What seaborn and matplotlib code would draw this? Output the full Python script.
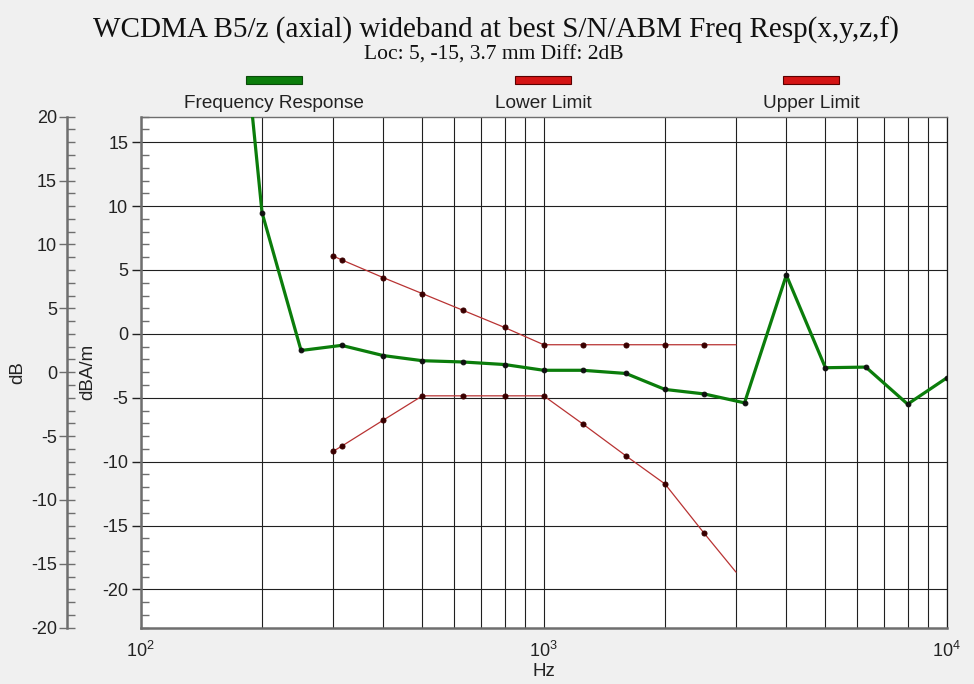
import numpy as np
import pandas as pd
import matplotlib
matplotlib.use("Agg")
import matplotlib.pyplot as plt
from matplotlib.patches import Rectangle
from matplotlib.ticker import MultipleLocator, LogLocator, NullFormatter
import seaborn as sns

# Measured response (dBA/m) and the +/-2 dB limit template around the 1 kHz value
resp_freq = [160, 200, 250, 315, 400, 500, 630, 800, 1000, 1250, 1600,
             2000, 2500, 3150, 4000, 5000, 6300, 8000, 10000]
resp_val = [40.3, 9.5, -1.3, -0.9, -1.7, -2.1, -2.2, -2.4, -2.85, -2.85, -3.1,
            -4.35, -4.7, -5.4, 4.6, -2.65, -2.6, -5.5, -3.45]

limit_freq = [300, 315, 400, 500, 630, 800, 1000, 1250, 1600, 2000, 2500, 3000]
upper_val = [6.1, 5.8, 4.4, 3.15, 1.85, 0.5, -0.85, -0.85, -0.85, -0.85, -0.85, -0.85]
lower_val = [-9.2, -8.8, -6.75, -4.85, -4.85, -4.85, -4.85, -7.05, -9.55, -11.75, -15.6, -18.65]

series_names = ["Frequency Response", "Lower Limit", "Upper Limit"]
title = "WCDMA B5/z (axial) wideband at best S/N/ABM Freq Resp(x,y,z,f)"
subtitle = "Loc: 5, -15, 3.7 mm Diff: 2dB"

GREEN = "#0b7d0b"
RED = "#b83333"
SPINE = "#6e6e6e"
GRID = "#202020"

sns.set_theme(style="white")
plt.rcParams["font.family"] = ["Liberation Sans", "DejaVu Sans"]
plt.rcParams["mathtext.default"] = "regular"
plt.rcParams["axes.unicode_minus"] = False

resp_df = pd.DataFrame({"Hz": resp_freq, "dBA/m": resp_val})
upper_df = pd.DataFrame({"Hz": limit_freq, "dBA/m": upper_val})
lower_df = pd.DataFrame({"Hz": limit_freq, "dBA/m": lower_val})

fig = plt.figure(figsize=(9.74, 6.84), dpi=100, facecolor="#f0f0f0")
ax = fig.add_axes([140.7 / 974, 56.3 / 684, 806 / 974, 511 / 684])
ax.set_facecolor("white")
ax.set_xscale("log")

# limit template: thin lines, markers on every point except the closing 3 kHz end
for df in (upper_df, lower_df):
    sns.lineplot(data=df, x="Hz", y="dBA/m", ax=ax, color=RED, lw=0.9,
                 marker="o", markersize=3.6, markerfacecolor="#3a0000",
                 markeredgecolor="#3a0000", markevery=list(range(len(df) - 1)),
                 zorder=3)
sns.lineplot(data=resp_df, x="Hz", y="dBA/m", ax=ax, color=GREEN, lw=2.3,
             marker="o", markersize=3.4, markerfacecolor="#101010",
             markeredgecolor="#101010", zorder=4)

ax.set_xlim(100, 10000)
ax.set_ylim(-23, 17)

# grid: every decade and sub-decade vertically, every 5 dB horizontally
ax.xaxis.set_major_locator(LogLocator(base=10, numticks=5))
ax.xaxis.set_minor_locator(LogLocator(base=10, subs=np.arange(2, 10), numticks=20))
ax.xaxis.set_minor_formatter(NullFormatter())
ax.yaxis.set_major_locator(MultipleLocator(5))
ax.yaxis.set_minor_locator(MultipleLocator(1))
ax.grid(True, which="both", axis="x", color=GRID, lw=0.8)
ax.grid(True, which="major", axis="y", color=GRID, lw=0.8)

ax.tick_params(axis="x", which="major", direction="out", length=8, width=1,
               color=GRID, labelsize=13, pad=1.5, labelcolor="#222222")
ax.tick_params(axis="x", which="minor", length=0)
ax.tick_params(axis="y", which="major", direction="out", length=6.5, width=1,
               color=GRID, labelsize=13, pad=2.5, labelcolor="#222222")
ax.tick_params(axis="y", which="minor", direction="in", length=5.5, width=1,
               color=SPINE)

for side in ("left", "bottom"):
    ax.spines[side].set_color(SPINE)
    ax.spines[side].set_linewidth(1.8)
ax.spines["top"].set_color(SPINE)
ax.spines["top"].set_linewidth(1.0)
ax.spines["right"].set_color("#1a1a1a")
ax.spines["right"].set_linewidth(0.9)

ax.set_xlabel("Hz", fontsize=13.5, color="#222222", va="center")
ax.xaxis.set_label_coords(0.5, -0.085)
ax.set_ylabel("dBA/m", fontsize=13.5, color="#222222", va="center")
ax.yaxis.set_label_coords(-0.0654, 0.5)

# second, offset dB scale on the far left
ax2 = ax.twinx()
ax2.set_ylim(-20, 20)
ax2.yaxis.set_ticks_position("left")
ax2.yaxis.set_label_position("left")
ax2.spines["left"].set_position(("axes", -74 / 806))
ax2.spines["left"].set_color(SPINE)
ax2.spines["left"].set_linewidth(1.8)
for side in ("right", "top", "bottom"):
    ax2.spines[side].set_visible(False)
ax2.yaxis.set_major_locator(MultipleLocator(5))
ax2.yaxis.set_minor_locator(MultipleLocator(1))
ax2.tick_params(axis="y", which="major", direction="inout", length=12, width=1,
                color=SPINE, labelsize=13, pad=1, labelcolor="#222222")
ax2.tick_params(axis="y", which="minor", direction="in", length=6, width=1,
                color=SPINE)
ax2.set_ylabel("dB", fontsize=13.5, color="#222222", va="center")
ax2.yaxis.set_label_coords(-0.152, 0.5)

# titles
fig.text(496 / 974, 1 - 30 / 684, title, family=["Liberation Serif", "DejaVu Serif"],
         fontsize=21, ha="center", va="center", color="#111111")
fig.text(494 / 974, 1 - 55 / 684, subtitle, family=["Liberation Serif", "DejaVu Serif"],
         fontsize=15.5, ha="center", va="center", color="#111111")

# legend row: swatch above each series name
legend_x = [274, 543, 811]
legend_face = [GREEN, "#d41414", "#d41414"]
legend_edge = ["#0a4a0a", "#5a0000", "#5a0000"]
for name, cx, fc, ec in zip(series_names, legend_x, legend_face, legend_edge):
    fig.add_artist(Rectangle(((cx - 28) / 974, 1 - 84 / 684), 56 / 974, 8 / 684,
                             transform=fig.transFigure, facecolor=fc,
                             edgecolor=ec, lw=0.8))
    fig.text(cx / 974, 1 - 103 / 684, name, fontsize=13.7, ha="center",
             va="center", color="#222222")

fig.savefig("out.png", dpi=100, facecolor=fig.get_facecolor())
